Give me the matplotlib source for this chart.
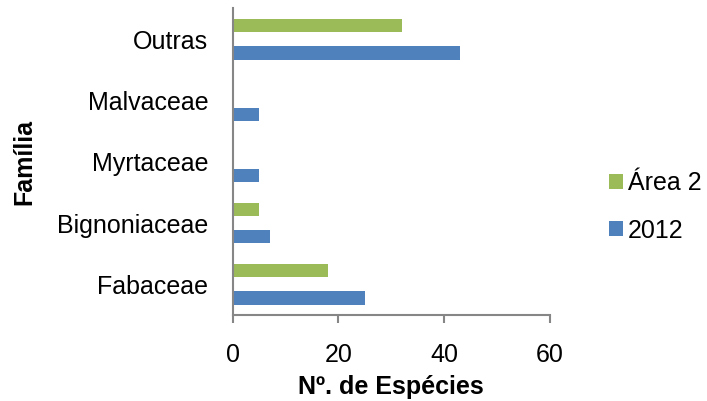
import numpy as np
import matplotlib
matplotlib.use("Agg")
import matplotlib.pyplot as plt

plt.rcParams["font.family"] = ["Liberation Sans", "DejaVu Sans"]

familias = ["Fabaceae", "Bignoniaceae", "Myrtaceae", "Malvaceae", "Outras"]
especies_2012 = [25, 7, 5, 5, 43]
especies_area2 = [18, 5, 0, 0, 32]

blue = "#4F81BD"
green = "#9BBB59"
gray = "#868686"

fig = plt.figure(figsize=(7.07, 4.01), dpi=100)
ax = fig.add_axes([0.329, 0.2145, 0.449, 0.7645])

y = np.arange(len(familias))
h = 0.218
ax.barh(y - 0.225, especies_2012, height=h, color=blue, label="2012")
ax.barh(y + 0.225, especies_area2, height=h, color=green, label="Área 2")

ax.set_xlim(0, 60)
ax.set_ylim(-0.5, len(familias) - 0.5)
ax.set_xticks([0, 20, 40, 60])
ax.set_yticks(y)
ax.set_yticklabels(familias)

for s in ["top", "right"]:
    ax.spines[s].set_visible(False)
for s in ["left", "bottom"]:
    ax.spines[s].set_color(gray)
    ax.spines[s].set_linewidth(1.5)

ax.tick_params(axis="x", colors=gray, labelcolor="black", labelsize=18,
               length=6, width=1.5, pad=14)
ax.tick_params(axis="y", length=0, labelsize=18, pad=17.5)

ax.set_xlabel("Nº. de Espécies", fontsize=18, fontweight="bold", labelpad=6)
ax.set_ylabel("Família", fontsize=18, fontweight="bold", labelpad=15)

handles, labels = ax.get_legend_handles_labels()
leg = fig.legend(handles[::-1], labels[::-1], loc="center left",
                 bbox_to_anchor=(0.847, 0.484), frameon=False, fontsize=18,
                 handlelength=0.55, handleheight=0.55, handletextpad=0.2,
                 labelspacing=0.93, borderaxespad=0)

fig.savefig("out.png", dpi=100)
